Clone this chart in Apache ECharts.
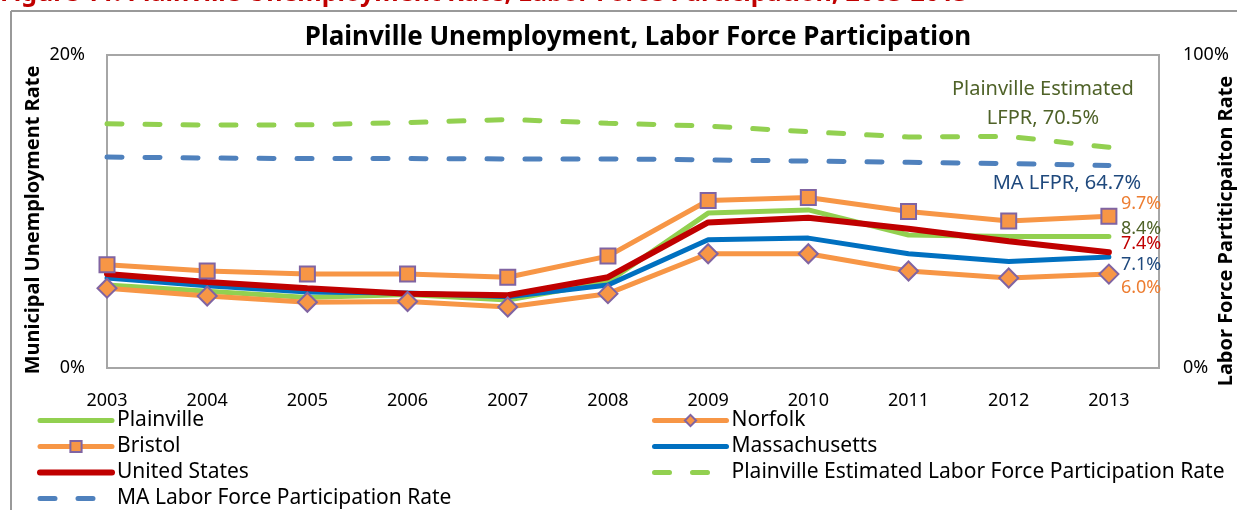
<!DOCTYPE html>
<html>
<head>
<meta charset="utf-8">
<script src="https://cdn.jsdelivr.net/npm/echarts@6/dist/echarts.min.js"></script>
<style>
  html, body { margin: 0; padding: 0; background: #fff; }
  #chart { width: 1237px; height: 510px; }
</style>
</head>
<body>
<div id="chart"></div>
<script>
const years = [2003, 2004, 2005, 2006, 2007, 2008, 2009, 2010, 2011, 2012, 2013]
const plainville = [5.3, 4.9, 4.5, 4.7, 4.35, 5.5, 9.9, 10.1, 8.5, 8.4, 8.4]
const norfolk = [5.1, 4.6, 4.2, 4.25, 3.9, 4.75, 7.3, 7.3, 6.2, 5.75, 6.0]
const bristol = [6.6, 6.2, 6.0, 6.0, 5.8, 7.15, 10.7, 10.9, 10.0, 9.4, 9.7]
const massachusetts = [5.75, 5.25, 4.85, 4.8, 4.55, 5.3, 8.2, 8.3, 7.3, 6.8, 7.1]
const unitedStates = [6.0, 5.5, 5.1, 4.75, 4.65, 5.8, 9.3, 9.6, 8.9, 8.1, 7.4]
const plainvilleLfpr = [78.0, 77.6, 77.7, 78.4, 79.4, 78.2, 77.3, 75.5, 73.8, 74.0, 70.5]
const maLfpr = [67.4, 67.1, 66.9, 66.9, 66.8, 66.8, 66.5, 66.1, 65.7, 65.3, 64.7]

const leftTicks = [0, 20]
const rightTicks = [0, 100]

const FONT = '"Noto Sans", "Open Sans", sans-serif'

const pairs = arr => years.map((y, i) => [y, arr[i]])
const pct = p => p.value[1].toFixed(1) + '%'
// plain line series: hide the dot the legend puts on its icon
const noDot = name => ({ name: name, itemStyle: { opacity: 0 } })

function endLabel(color, dy) {
  return {
    show: true,
    formatter: pct,
    color: color,
    fontSize: 18,
    fontFamily: FONT,
    distance: 12,
    offset: [0, dy]
  }
}

const legendStyle = {
  orient: 'vertical',
  top: 410,
  padding: 0,
  itemWidth: 72,
  itemHeight: 14,
  itemGap: 5,
  lineStyle: { width: 'inherit' },
  textStyle: { fontSize: 21, lineHeight: 21, color: '#000', fontFamily: FONT }
}

const chart = echarts.init(document.getElementById('chart'))

chart.setOption({
  animation: false,
  backgroundColor: '#fff',
  textStyle: { fontFamily: FONT },
  title: {
    text: 'Plainville Unemployment, Labor Force Participation',
    left: 633,
    textAlign: 'center',
    top: 20,
    textStyle: { fontSize: 26, fontWeight: 'bold', color: '#000', fontFamily: FONT }
  },
  graphic: [
    {
      type: 'text', x: 0, y: -19,
      style: {
        text: 'Figure 11: Plainville Unemployment Rate, Labor Force Participation, 2003-2013',
        font: 'bold 25px ' + FONT, fill: '#C00000'
      }
    },
    { type: 'line', shape: { x1: 11, y1: 11, x2: 1237, y2: 11 }, style: { stroke: '#999', lineWidth: 2 } },
    { type: 'line', shape: { x1: 11, y1: 11, x2: 11, y2: 510 }, style: { stroke: '#999', lineWidth: 2 } },
    {
      type: 'text', x: 33, y: 220, rotation: Math.PI / 2,
      style: {
        text: 'Municipal Unemployment Rate', font: 'bold 20px ' + FONT,
        fill: '#000', align: 'center', verticalAlign: 'middle'
      }
    },
    {
      type: 'text', x: 1226, y: 231, rotation: Math.PI / 2,
      style: {
        text: 'Labor Force Partiticpaiton Rate', font: 'bold 20px ' + FONT,
        fill: '#000', align: 'center', verticalAlign: 'middle'
      }
    }
  ],
  grid: {
    left: 107,
    right: 78,
    top: 55,
    bottom: 142,
    show: true,
    borderColor: '#A6A6A6',
    borderWidth: 2,
    containLabel: false
  },
  legend: [
    Object.assign({}, legendStyle, {
      left: 37,
      data: [noDot('Plainville'), 'Bristol', noDot('United States'), noDot('MA Labor Force Participation Rate')]
    }),
    Object.assign({}, legendStyle, {
      left: 652,
      data: ['Norfolk', noDot('Massachusetts'), noDot('Plainville Estimated Labor Force Participation Rate')]
    })
  ],
  xAxis: {
    type: 'value',
    min: years[0],
    max: years[years.length - 1] + 0.5,
    interval: 1,
    axisLine: { show: false },
    axisTick: { show: false },
    splitLine: { show: false },
    axisLabel: {
      fontSize: 18,
      color: '#000',
      margin: 24,
      formatter: v => (Number.isInteger(v) ? String(v) : '')
    }
  },
  yAxis: [
    {
      type: 'value',
      min: leftTicks[0],
      max: leftTicks[1],
      interval: leftTicks[1] - leftTicks[0],
      axisLine: { show: false },
      axisTick: { show: false },
      splitLine: { show: false },
      axisLabel: { formatter: '{value}%', fontSize: 18, color: '#000', margin: 22 }
    },
    {
      type: 'value',
      position: 'right',
      min: rightTicks[0],
      max: rightTicks[1],
      interval: rightTicks[1] - rightTicks[0],
      axisLine: { show: false },
      axisTick: { show: false },
      splitLine: { show: false },
      axisLabel: { formatter: '{value}%', fontSize: 18, color: '#000', margin: 24 }
    }
  ],
  series: [
    {
      name: 'Plainville',
      type: 'line',
      data: pairs(plainville),
      symbol: 'none',
      color: '#92D050',
      lineStyle: { width: 5, color: '#92D050', cap: 'round' },
      endLabel: endLabel('#4F6228', -8)
    },
    {
      name: 'Massachusetts',
      type: 'line',
      data: pairs(massachusetts),
      symbol: 'none',
      color: '#0070C0',
      lineStyle: { width: 5, color: '#0070C0', cap: 'round' },
      endLabel: endLabel('#1F497D', 8)
    },
    {
      name: 'United States',
      type: 'line',
      data: pairs(unitedStates),
      symbol: 'none',
      color: '#C00000',
      lineStyle: { width: 6, color: '#C00000', cap: 'round' },
      endLabel: endLabel('#C00000', -8)
    },
    {
      name: 'Norfolk',
      type: 'line',
      data: pairs(norfolk),
      symbol: 'diamond',
      symbolSize: 19,
      color: '#F79646',
      itemStyle: { color: '#F79646', borderColor: '#8064A2', borderWidth: 2 },
      lineStyle: { width: 5, color: '#F79646', cap: 'round' },
      endLabel: endLabel('#ED7D31', 14)
    },
    {
      name: 'Bristol',
      type: 'line',
      data: pairs(bristol),
      symbol: 'rect',
      symbolSize: 15,
      color: '#F79646',
      itemStyle: { color: '#F79646', borderColor: '#8064A2', borderWidth: 2 },
      lineStyle: { width: 5, color: '#F79646', cap: 'round' },
      endLabel: endLabel('#ED7D31', -12)
    },
    {
      name: 'Plainville Estimated Labor Force Participation Rate',
      type: 'line',
      yAxisIndex: 1,
      data: pairs(plainvilleLfpr),
      symbol: 'none',
      color: '#92D050',
      lineStyle: { width: 5, color: '#92D050', type: [15, 23], cap: 'round' },
      endLabel: {
        show: true,
        formatter: p => 'Plainville Estimated\nLFPR, ' + pct(p),
        color: '#4F6228',
        fontSize: 20,
        lineHeight: 29,
        align: 'center',
        distance: 0,
        offset: [-66, -44]
      }
    },
    {
      name: 'MA Labor Force Participation Rate',
      type: 'line',
      yAxisIndex: 1,
      data: pairs(maLfpr),
      symbol: 'none',
      color: '#4F81BD',
      lineStyle: { width: 5, color: '#4F81BD', type: [15, 23], cap: 'round' },
      endLabel: {
        show: true,
        formatter: p => 'MA LFPR, ' + pct(p),
        color: '#1F497D',
        fontSize: 20,
        align: 'center',
        distance: 0,
        offset: [-42, 18]
      }
    }
  ]
})
</script>
</body>
</html>
